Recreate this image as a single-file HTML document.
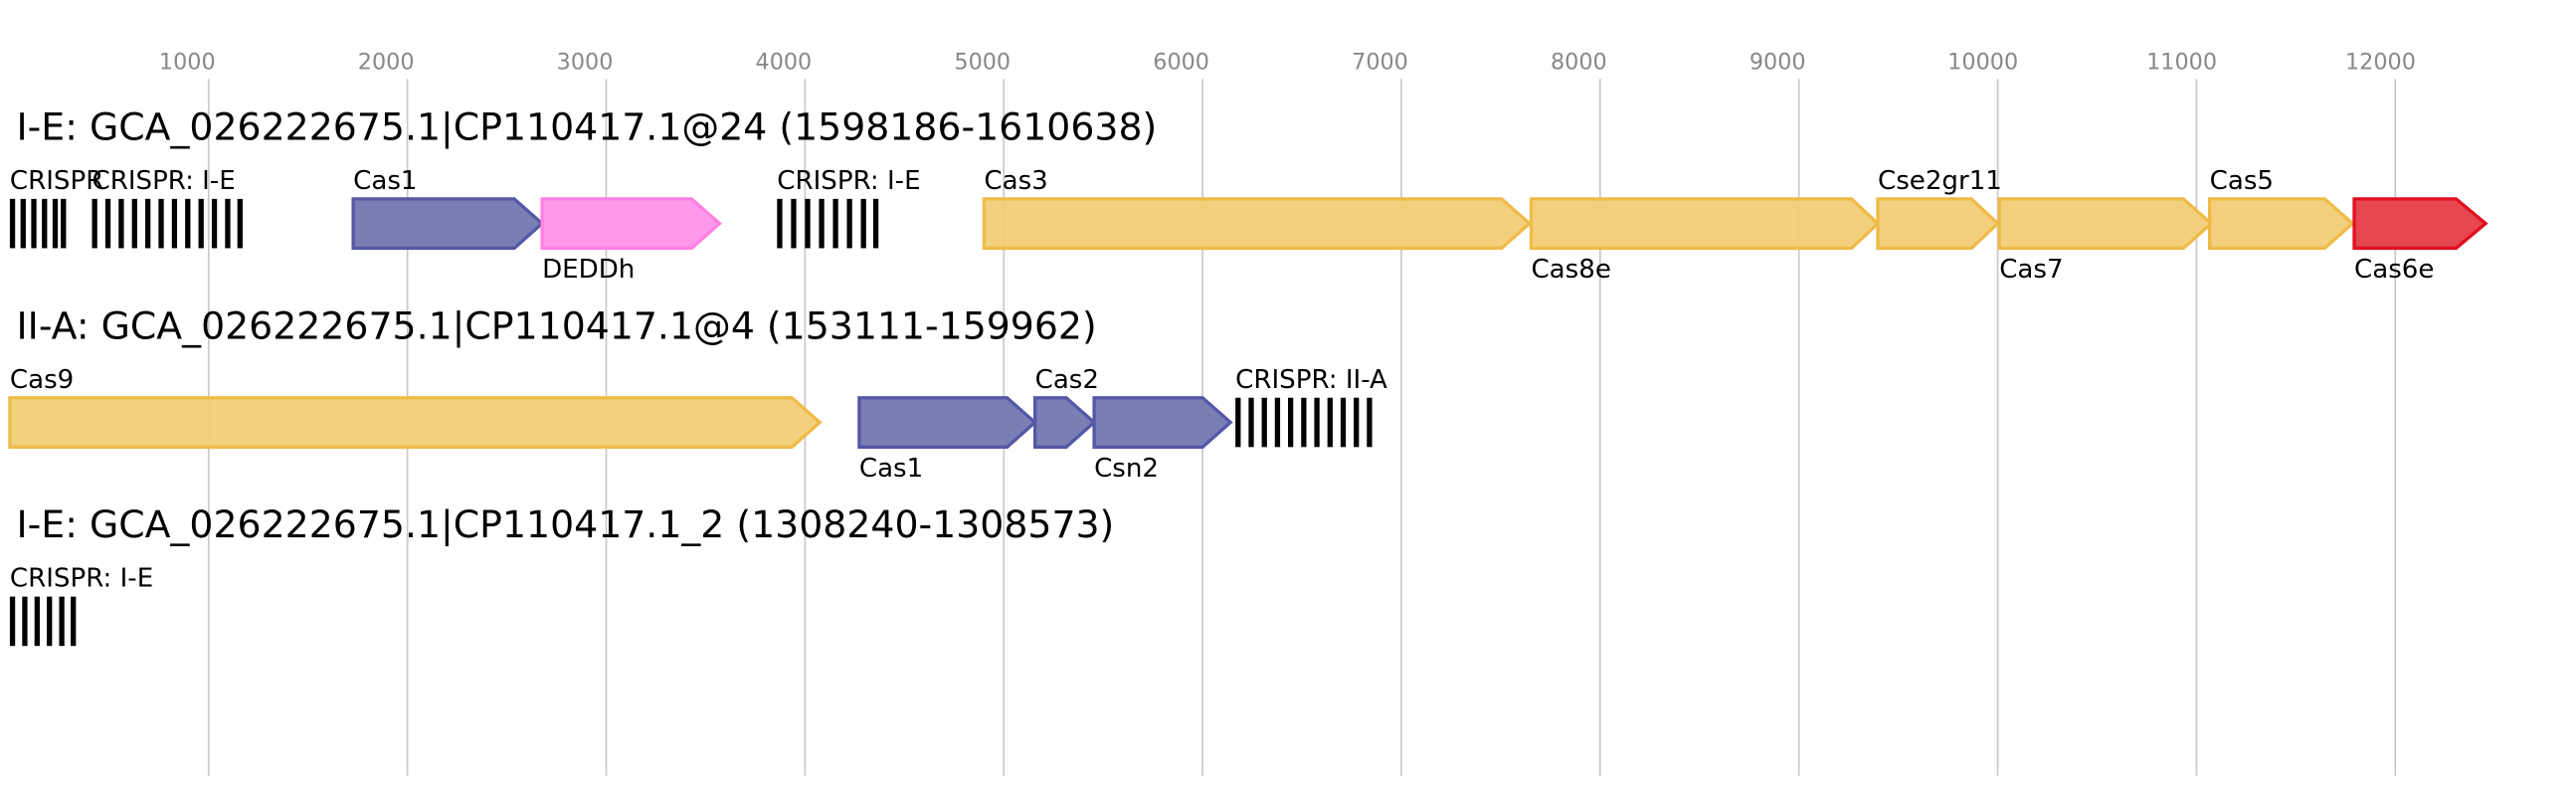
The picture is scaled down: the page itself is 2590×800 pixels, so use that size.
<!DOCTYPE html>
<html><head><meta charset="utf-8"><style>
html,body{margin:0;padding:0;background:#fff;}
svg{display:block;font-family:"DejaVu Sans","Liberation Sans",sans-serif;}
.t{font-size:13.5px;fill:#888;text-anchor:middle}
.h{font-size:22.9px;fill:#000}
.l{font-size:15.8px;fill:#000}
.g{stroke:#c8c8c8;stroke-width:1}
.b{fill:#7b7db5;stroke:#5558a5;stroke-width:2}
.p{fill:#fe99e9;stroke:#ff80e3;stroke-width:2}
.y{fill:#f1cd76;fill-opacity:.95;stroke:#efbb48;stroke-width:2}
.r{fill:#e5464f;stroke:#e01020;stroke-width:2}
</style></head><body>
<svg width="2590" height="800" viewBox="0 0 1568 484.3" preserveAspectRatio="none">
<g class="t">
<text x="114" y="42">1000</text><text x="235" y="42">2000</text><text x="356" y="42">3000</text><text x="477" y="42">4000</text><text x="598" y="42">5000</text><text x="719" y="42">6000</text><text x="840" y="42">7000</text><text x="961" y="42">8000</text><text x="1082" y="42">9000</text><text x="1207" y="42">10000</text><text x="1328" y="42">11000</text><text x="1449" y="42">12000</text>
</g>
<g class="g">
<line x1="127" y1="48" x2="127" y2="472"/><line x1="248" y1="48" x2="248" y2="472"/><line x1="369" y1="48" x2="369" y2="472"/><line x1="490" y1="48" x2="490" y2="472"/><line x1="611" y1="48" x2="611" y2="472"/><line x1="732" y1="48" x2="732" y2="472"/><line x1="853" y1="48" x2="853" y2="472"/><line x1="974" y1="48" x2="974" y2="472"/><line x1="1095" y1="48" x2="1095" y2="472"/><line x1="1216" y1="48" x2="1216" y2="472"/><line x1="1337" y1="48" x2="1337" y2="472"/><line x1="1458" y1="48" x2="1458" y2="472"/>
</g>
<text class="h" x="10" y="85">I-E: GCA_026222675.1|CP110417.1@24 (1598186-1610638)</text>
<text class="h" x="10" y="206">II-A: GCA_026222675.1|CP110417.1@4 (153111-159962)</text>
<text class="h" x="10" y="327">I-E: GCA_026222675.1|CP110417.1_2 (1308240-1308573)</text>

<!-- row1 -->
<g fill="#000">
<rect x="6" y="121" width="3.2" height="30"/><rect x="12.5" y="121" width="3.2" height="30"/><rect x="19" y="121" width="3.2" height="30"/><rect x="25.5" y="121" width="3.2" height="30"/><rect x="32" y="121" width="3.2" height="30"/><rect x="37" y="121" width="3.2" height="30"/>
<rect x="56" y="121" width="3.2" height="30"/><rect x="64.1" y="121" width="3.2" height="30"/><rect x="72.2" y="121" width="3.2" height="30"/><rect x="80.3" y="121" width="3.2" height="30"/><rect x="88.4" y="121" width="3.2" height="30"/><rect x="96.5" y="121" width="3.2" height="30"/><rect x="104.6" y="121" width="3.2" height="30"/><rect x="112.7" y="121" width="3.2" height="30"/><rect x="120.8" y="121" width="3.2" height="30"/><rect x="128.9" y="121" width="3.2" height="30"/><rect x="137" y="121" width="3.2" height="30"/><rect x="144.5" y="121" width="3.2" height="30"/>
<rect x="473" y="121" width="3.2" height="30"/><rect x="481.5" y="121" width="3.2" height="30"/><rect x="490" y="121" width="3.2" height="30"/><rect x="498.5" y="121" width="3.2" height="30"/><rect x="507" y="121" width="3.2" height="30"/><rect x="515.5" y="121" width="3.2" height="30"/><rect x="524" y="121" width="3.2" height="30"/><rect x="531.5" y="121" width="3.2" height="30"/>
</g>
<polygon class="b" points="215,121 313,121 330,136 313,151 215,151"/>
<polygon class="p" points="330,121 421,121 438,136 421,151 330,151"/>
<polygon class="y" points="599,121 914,121 931,136 914,151 599,151"/>
<polygon class="y" points="932,121 1127,121 1143,136 1127,151 932,151"/>
<polygon class="y" points="1143,121 1200,121 1216,136 1200,151 1143,151"/>
<polygon class="y" points="1217,121 1329,121 1346,136 1329,151 1217,151"/>
<polygon class="y" points="1345,121 1415,121 1432,136 1415,151 1345,151"/>
<polygon class="r" points="1433,121 1495,121 1513,136 1495,151 1433,151"/>
<g class="l">
<text x="6" y="115">CRISPR</text><text x="56" y="115">CRISPR: I-E</text><text x="215" y="115">Cas1</text><text x="473" y="115">CRISPR: I-E</text><text x="599" y="115">Cas3</text><text x="1143" y="115">Cse2gr11</text><text x="1345" y="115">Cas5</text>
<text x="330" y="169">DEDDh</text><text x="932" y="169">Cas8e</text><text x="1217" y="169">Cas7</text><text x="1433" y="169">Cas6e</text>
</g>

<!-- row2 -->
<polygon class="y" points="6,242 482,242 499,257 482,272 6,272"/>
<polygon class="b" points="523,242 613,242 630,257 613,272 523,272"/>
<polygon class="b" points="630,242 649,242 666,257 649,272 630,272"/>
<polygon class="b" points="666,242 732,242 749,257 732,272 666,272"/>
<g fill="#000">
<rect x="752" y="242" width="3.2" height="30"/><rect x="760" y="242" width="3.2" height="30"/><rect x="768" y="242" width="3.2" height="30"/><rect x="776" y="242" width="3.2" height="30"/><rect x="784" y="242" width="3.2" height="30"/><rect x="792" y="242" width="3.2" height="30"/><rect x="800" y="242" width="3.2" height="30"/><rect x="808" y="242" width="3.2" height="30"/><rect x="816" y="242" width="3.2" height="30"/><rect x="824" y="242" width="3.2" height="30"/><rect x="832" y="242" width="3.2" height="30"/>
</g>
<g class="l">
<text x="6" y="236">Cas9</text><text x="630" y="236">Cas2</text><text x="752" y="236">CRISPR: II-A</text>
<text x="523" y="290">Cas1</text><text x="666" y="290">Csn2</text>
</g>

<!-- row3 -->
<g fill="#000">
<rect x="6" y="363" width="3.2" height="30"/><rect x="13.5" y="363" width="3.2" height="30"/><rect x="21" y="363" width="3.2" height="30"/><rect x="28.5" y="363" width="3.2" height="30"/><rect x="36" y="363" width="3.2" height="30"/><rect x="43" y="363" width="3.2" height="30"/>
</g>
<text class="l" x="6" y="357">CRISPR: I-E</text>
</svg>
</body></html>
